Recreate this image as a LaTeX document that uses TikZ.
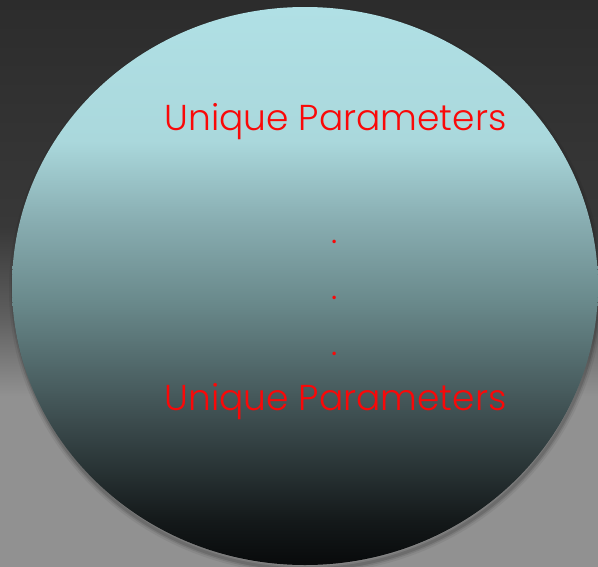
\documentclass[tikz,border=0pt]{standalone}
\usepackage{fontspec}
\setmainfont{Poppins Light}
\usetikzlibrary{shapes.geometric}

\definecolor{uniRed}{RGB}{250,8,8}
\definecolor{bgTop}{RGB}{44,44,44}
\definecolor{bgDark}{RGB}{56,56,56}
\definecolor{bgMid}{RGB}{95,95,95}
\definecolor{bgLow}{RGB}{145,145,145}
\definecolor{capTop}{RGB}{176,224,229}
\definecolor{capA}{RGB}{170,216,220}
\definecolor{capB}{RGB}{137,174,178}
\definecolor{capC}{RGB}{106,138,140}
\definecolor{capD}{RGB}{60,76,78}
\definecolor{capE}{RGB}{20,25,26}
\definecolor{capF}{RGB}{8,10,11}

\pgfdeclareverticalshading{bubble}{100bp}{
	color(0bp)=(capF); color(25bp)=(capF); color(29bp)=(capE);
	color(38bp)=(capD); color(48.7bp)=(capC); color(56bp)=(capB);
	color(63bp)=(capA); color(75bp)=(capTop); color(100bp)=(capTop)}
\pgfdeclareverticalshading{backdrop}{100bp}{
	color(0bp)=(bgLow); color(25bp)=(bgLow); color(40bp)=(bgLow);
	color(47bp)=(bgMid); color(55bp)=(bgDark); color(75bp)=(bgTop); color(100bp)=(bgTop)}

\begin{document}
\begin{tikzpicture}[
					x = 1pt, y = -1pt,
					label/.style = {
						text = uniRed,
						font = \fontsize{36}{36}\selectfont,
						inner sep = 0pt,
						anchor = base,
					},
					dotmark/.style = {
						text = uniRed,
						font = \fontsize{34}{34}\selectfont,
						inner sep = 0pt,
						anchor = base,
					},
			]
				% backdrop
				\shade[shading = backdrop] (0, 0) rectangle (598, 566);
				\useasboundingbox (0, 0) rectangle (598, 566);

				% soft shadow round the bubble
				\foreach \w/\o in {10/0.06, 6/0.09, 3/0.12} {
					\draw[black, line width = \w pt, opacity = \o] (306, 290) ellipse (292 and 279);
				}

				\draw (305, 286) node (bubble) [ellipse, shading = bubble,
					minimum width = 586pt, minimum height = 558pt, inner sep = 0pt] {};

				\draw (335.5, 130) node (p1) [label] {Unique Parameters};
				\draw (335, 243) node (d1) [dotmark] {.};
				\draw (335, 299) node (d2) [dotmark] {.};
				\draw (335, 355) node (d3) [dotmark] {.};
				\draw (335.5, 410) node (p2) [label] {Unique Parameters};
			\end{tikzpicture}
\end{document}
